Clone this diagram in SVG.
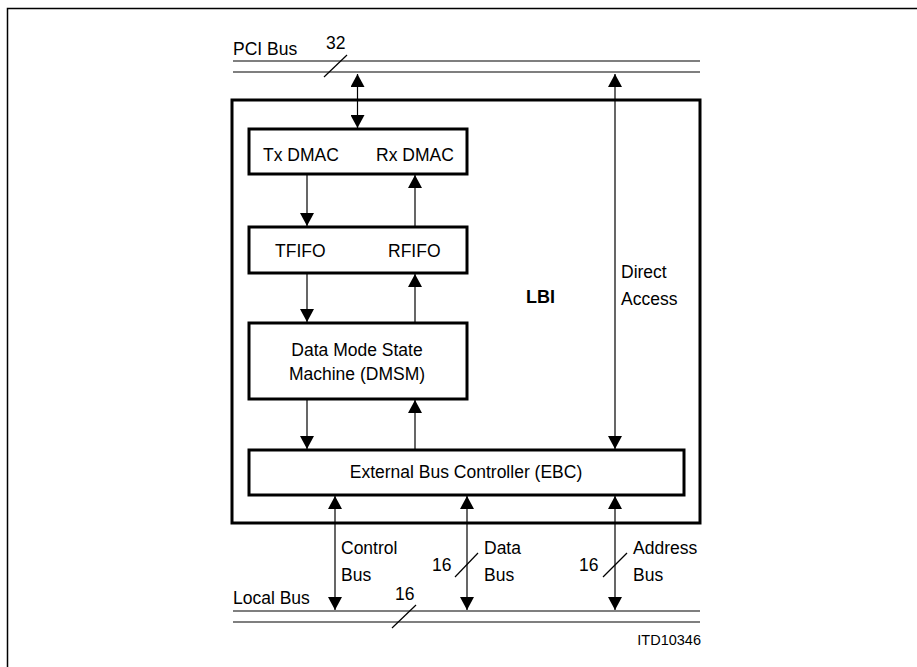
<svg xmlns="http://www.w3.org/2000/svg" width="917" height="667" viewBox="0 0 917 667">
<style>
  text { font-family: "Liberation Sans", Arial, sans-serif; font-size: 17.5px; fill: #000; }
  .box { fill: #fff; stroke: #000; stroke-width: 3; }
  .bus { stroke: #000; stroke-width: 1.2; fill: none; }
  .conn { stroke: #000; stroke-width: 1.2; fill: none; }
  .mid { text-anchor: middle; }
</style>
<defs>
  <marker id="ah" markerUnits="userSpaceOnUse" markerWidth="14" markerHeight="14" viewBox="0 0 12 13" refX="12" refY="6.5" orient="auto-start-reverse">
    <path d="M0,0 L12,6.5 L0,13 Z" fill="#000"/>
  </marker>
</defs>
<rect width="917" height="667" fill="#fff"/>
<path d="M7.5,667 V8.5 H917" stroke="#000" stroke-width="1.5" fill="none"/>

<g id="pci-bus">
  <line class="bus" x1="233" y1="61" x2="700" y2="61"/>
  <line class="bus" x1="233" y1="72" x2="700" y2="72"/>
  <line class="bus" x1="324" y1="77" x2="347" y2="55"/>
  <text x="233" y="55">PCI Bus</text>
  <text x="326" y="49">32</text>
</g>

<g id="local-bus">
  <line class="bus" x1="233" y1="611" x2="700" y2="611"/>
  <line class="bus" x1="233" y1="622" x2="700" y2="622"/>
  <line class="bus" x1="392" y1="628" x2="416" y2="605"/>
  <text x="233" y="604">Local Bus</text>
  <text x="395" y="600">16</text>
</g>

<g id="lbi">
  <rect class="box" x="232" y="100" width="468" height="423"/>
  <text x="526" y="303" style="font-weight:bold;font-size:18px">LBI</text>
</g>

<g id="dmac">
  <rect class="box" x="249" y="129" width="218" height="45"/>
  <text x="263" y="161">Tx DMAC</text>
  <text x="376" y="161">Rx DMAC</text>
</g>

<g id="fifo">
  <rect class="box" x="249" y="227" width="218" height="46"/>
  <text x="275" y="257">TFIFO</text>
  <text x="388" y="257">RFIFO</text>
</g>

<g id="dmsm">
  <rect class="box" x="249" y="323" width="218" height="76"/>
  <text class="mid" x="357" y="356">Data Mode State</text>
  <text class="mid" x="357" y="380">Machine (DMSM)</text>
</g>

<g id="ebc">
  <rect class="box" x="249" y="450" width="435" height="45"/>
  <text class="mid" x="466" y="478">External Bus Controller (EBC)</text>
</g>

<g id="connectors">
  <line class="conn" x1="357.5" y1="74" x2="357.5" y2="128" marker-start="url(#ah)" marker-end="url(#ah)"/>
  <line class="conn" x1="615" y1="74" x2="615" y2="449" marker-start="url(#ah)" marker-end="url(#ah)"/>
  <line class="conn" x1="307" y1="175" x2="307" y2="226" marker-end="url(#ah)"/>
  <line class="conn" x1="415" y1="226" x2="415" y2="175" marker-end="url(#ah)"/>
  <line class="conn" x1="307" y1="274" x2="307" y2="322" marker-end="url(#ah)"/>
  <line class="conn" x1="415" y1="322" x2="415" y2="274" marker-end="url(#ah)"/>
  <line class="conn" x1="307" y1="400" x2="307" y2="449" marker-end="url(#ah)"/>
  <line class="conn" x1="415" y1="449" x2="415" y2="400" marker-end="url(#ah)"/>
  <line class="conn" x1="335" y1="496" x2="335" y2="610" marker-start="url(#ah)" marker-end="url(#ah)"/>
  <line class="conn" x1="467" y1="496" x2="467" y2="610" marker-start="url(#ah)" marker-end="url(#ah)"/>
  <line class="conn" x1="615" y1="496" x2="615" y2="610" marker-start="url(#ah)" marker-end="url(#ah)"/>
  <line class="bus" x1="455" y1="577" x2="478" y2="553"/>
  <line class="bus" x1="603" y1="577" x2="627" y2="553"/>
</g>

<g id="labels">
  <text x="621" y="278">Direct</text>
  <text x="621" y="305">Access</text>
  <text x="341" y="554">Control</text>
  <text x="341" y="581">Bus</text>
  <text x="484" y="554">Data</text>
  <text x="484" y="581">Bus</text>
  <text x="633" y="554">Address</text>
  <text x="633" y="581">Bus</text>
  <text x="432" y="571">16</text>
  <text x="579" y="571">16</text>
  <text x="701" y="645" style="font-size:14.5px;text-anchor:end">ITD10346</text>
</g>
</svg>
